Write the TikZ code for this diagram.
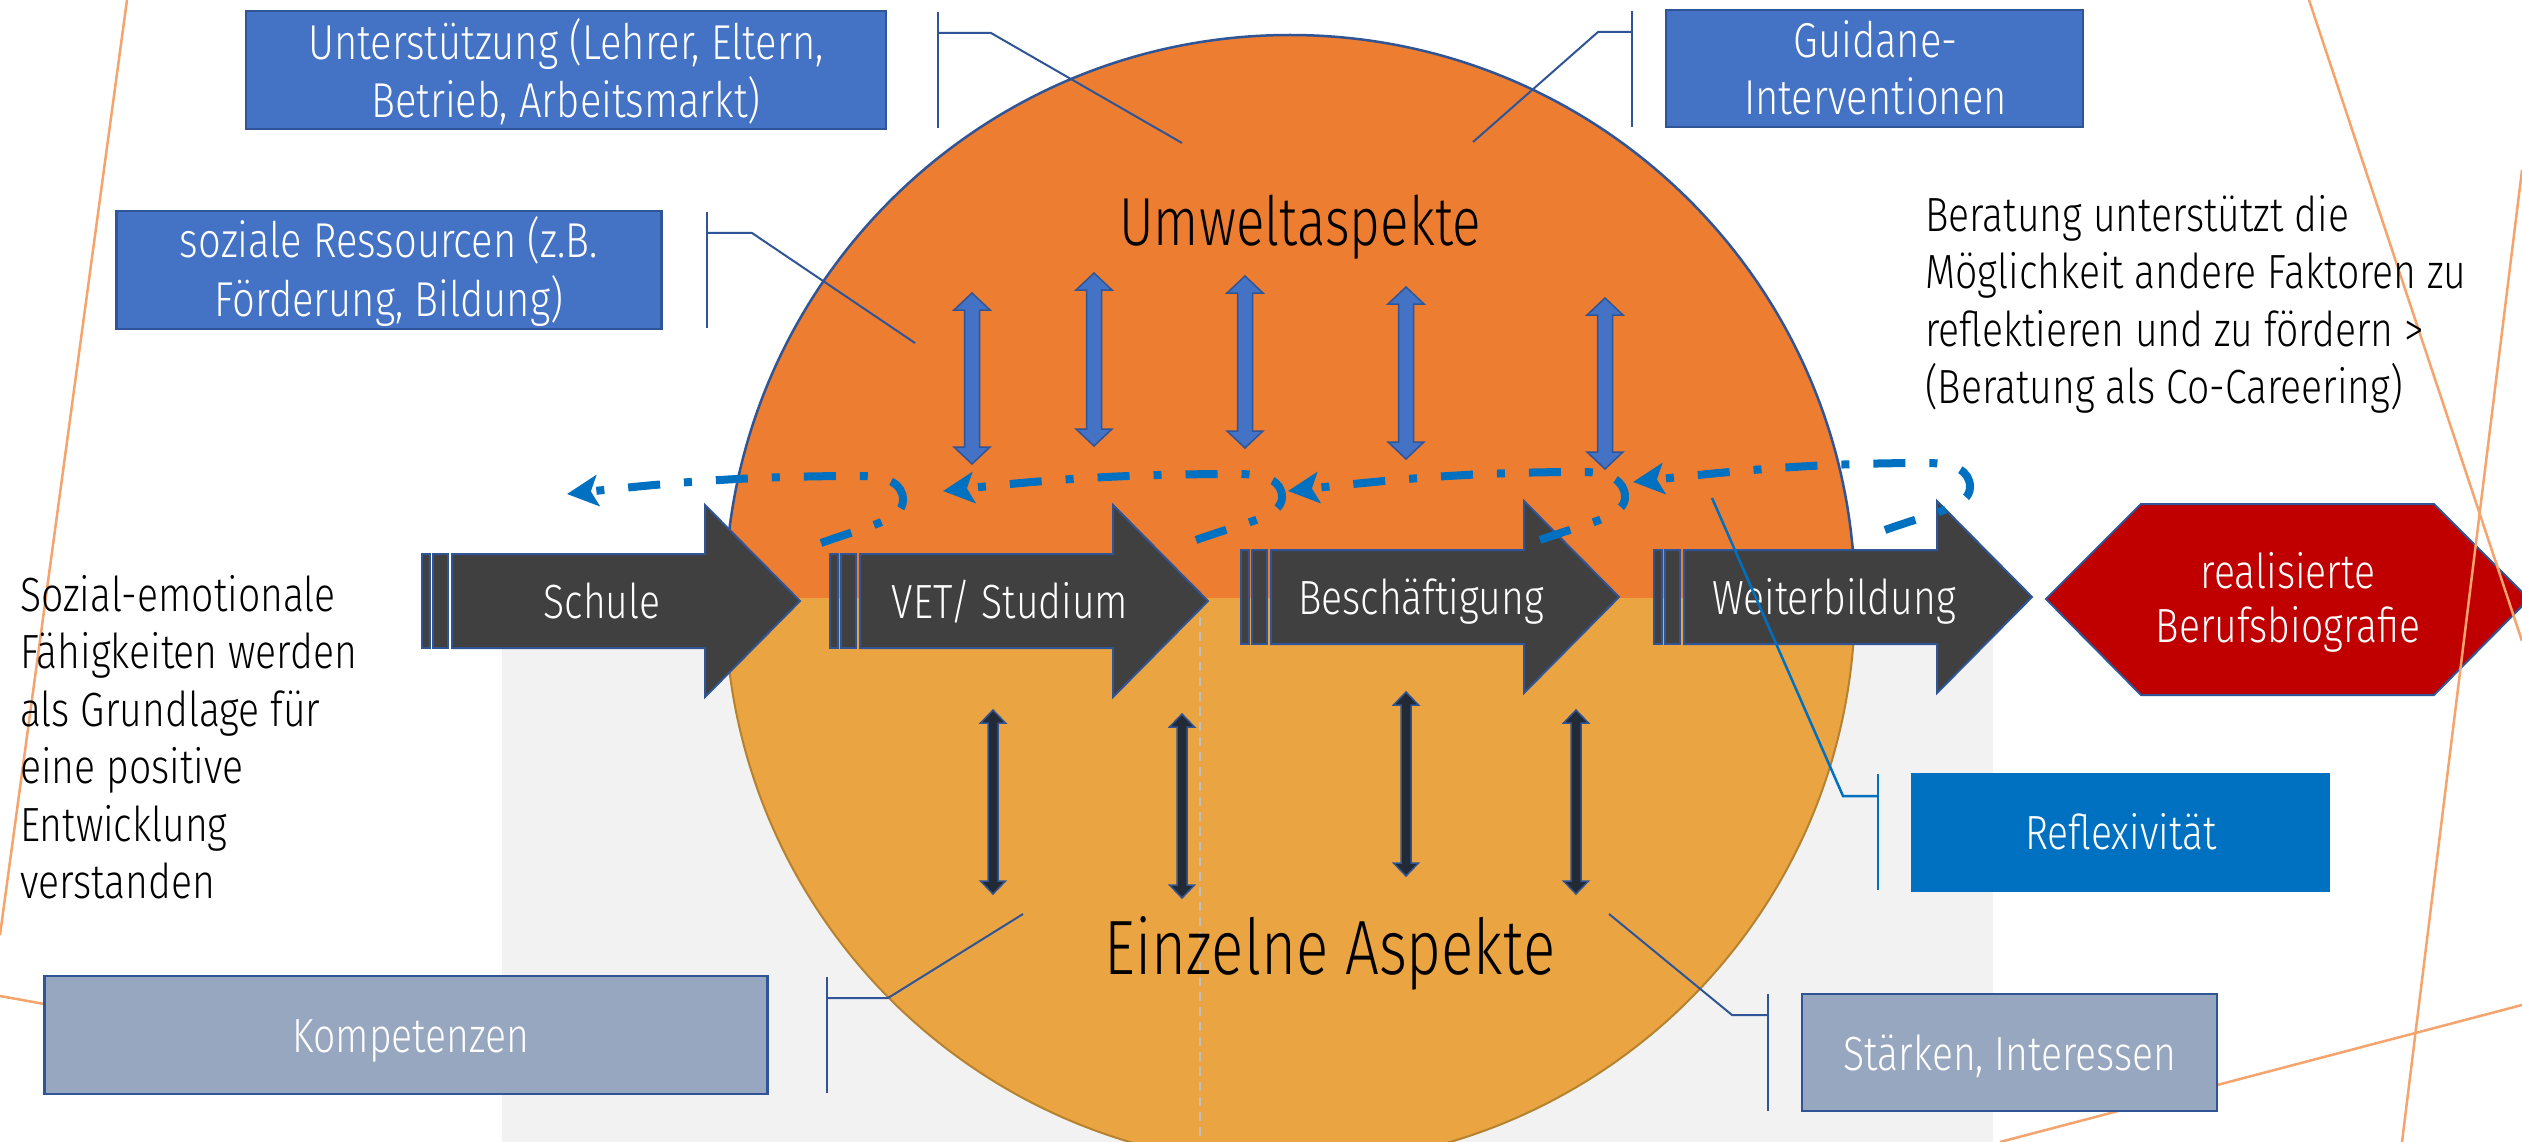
\documentclass[tikz,border=0pt]{standalone}
\usepackage{fontspec}
\setmainfont{Fira Sans Light}[FakeStretch=0.815]
\newfontfamily\headf{Fira Sans Light}[FakeStretch=0.78]
\usetikzlibrary{arrows.meta}
\definecolor{boxblue}{HTML}{4472C4}
\definecolor{edgeblue}{HTML}{2F5597}
\definecolor{refblue}{HTML}{0070C0}
\definecolor{grayblue}{HTML}{97A7BF}
\definecolor{hexred}{HTML}{C00000}
\definecolor{arrgray}{HTML}{404040}
\definecolor{topor}{HTML}{ED7D31}
\definecolor{botor}{HTML}{EAA442}
\definecolor{botedge}{HTML}{B5822F}
\definecolor{bggray}{HTML}{F2F2F2}
\definecolor{decor}{HTML}{F4A46C}
\definecolor{darkarr}{HTML}{222A35}
\definecolor{dashgray}{HTML}{BFBFBF}

\newcommand\vdblarr[7]{%
  \draw[#7] ({#1},{#2}) -- ({#1+#5},{#2+#6}) -- ({#1+#4},{#2+#6}) -- ({#1+#4},{#3-#6}) -- ({#1+#5},{#3-#6}) -- ({#1},{#3}) -- ({#1-#5},{#3-#6}) -- ({#1-#4},{#3-#6}) -- ({#1-#4},{#2+#6}) -- ({#1-#5},{#2+#6}) -- cycle;}

\newcommand\procarr[4]{%
  \draw[arrbody] ({#1},{#2-47}) rectangle ({#1+8},{#2+47});
  \draw[arrbody] ({#1+11},{#2-47}) rectangle ({#1+26},{#2+47});
  \draw[arrbody] ({#1+30},{#2-47}) -- ({#1+283},{#2-47}) -- ({#1+283},{#2-96}) -- ({#1+378},{#2}) -- ({#1+283},{#2+96}) -- ({#1+283},{#2+47}) -- ({#1+30},{#2+47}) -- cycle;
  \node[wtxt, anchor=base] (#3) at ({#1+180},{#2+17}) {#4};}

\begin{document}
\begin{tikzpicture}[x=1pt,y=-1pt,
  txt/.style={inner sep=0pt, font=\fontsize{48}{57.5}\selectfont},
  wtxt/.style={txt, text=white},
  bluebox/.style={draw=edgeblue, fill=boxblue, line width=2.5pt, inner sep=0pt},
  greybox/.style={draw=edgeblue, fill=grayblue, line width=2.5pt, inner sep=0pt},
  reflbox/.style={fill=refblue, inner sep=0pt},
  callout/.style={draw=edgeblue, line width=2pt},
  reflcall/.style={draw=refblue, line width=2.5pt},
  decoline/.style={draw=decor, line width=2.5pt},
  arrbody/.style={fill=arrgray, draw=edgeblue, line width=2pt},
  updbl/.style={fill=boxblue, draw=edgeblue, line width=1.5pt},
  lowdbl/.style={fill=darkarr, draw=edgeblue, line width=1.5pt},
  loopst/.style={draw=refblue, line width=8pt, dash pattern=on 32pt off 24pt on 8pt off 24pt,
     -{Stealth[length=31pt,width=31pt,inset=7pt]}}]

\useasboundingbox (0,0) rectangle (2522,1142);
\fill[white] (0,0) rectangle (2522,1142);

% grey panel
\fill[bggray] (502,600) rectangle (1993,1142);

% circle halves
\begin{scope}
  \clip (0,0) rectangle (2522,598);
  \fill[topor] (1290,600) circle[radius=565pt];
  \draw[edgeblue, line width=2.5pt] (1290,600) circle[radius=565pt];
\end{scope}
\begin{scope}
  \clip (0,598) rectangle (2522,1142);
  \fill[botor] (1290,600) circle[radius=565pt];
  \draw[botedge, line width=2pt] (1290,600) circle[radius=565pt];
\end{scope}

% vertical dashed line
\coordinate (dlt) at (1200,602);
\coordinate (dlb) at (1200,1142);
\draw[dashgray, line width=2pt, dash pattern=on 9pt off 6pt] (dlt) -- (dlb);

% headings
\node[inner sep=0pt, anchor=base, font=\headf\fontsize{68}{80}\selectfont] (umwelt) at (1300,246) {Umweltaspekte};
\node[inner sep=0pt, anchor=base, font=\headf\fontsize{77}{90}\selectfont] (einzeln) at (1330,974) {Einzelne Aspekte};

% callouts (dark blue)
\coordinate (cu1) at (938,12); \coordinate (cu2) at (938,128);
\coordinate (cu3) at (938,33); \coordinate (cu4) at (991,33); \coordinate (cu5) at (1182,143);
\draw[callout] (cu1) -- (cu2); \draw[callout] (cu3) -- (cu4) -- (cu5);

\coordinate (cg1) at (1632,11); \coordinate (cg2) at (1632,127);
\coordinate (cg3) at (1632,32); \coordinate (cg4) at (1598,32); \coordinate (cg5) at (1473,142);
\draw[callout] (cg1) -- (cg2); \draw[callout] (cg3) -- (cg4) -- (cg5);

\coordinate (cs1) at (707,212); \coordinate (cs2) at (707,328);
\coordinate (cs3) at (707,233); \coordinate (cs4) at (752,233); \coordinate (cs5) at (915,343);
\draw[callout] (cs1) -- (cs2); \draw[callout] (cs3) -- (cs4) -- (cs5);

\coordinate (ck1) at (827,977); \coordinate (ck2) at (827,1093);
\coordinate (ck3) at (827,998); \coordinate (ck4) at (888,998); \coordinate (ck5) at (1023,914);
\draw[callout] (ck1) -- (ck2); \draw[callout] (ck3) -- (ck4) -- (ck5);

\coordinate (ct1) at (1768,994); \coordinate (ct2) at (1768,1111);
\coordinate (ct3) at (1768,1015); \coordinate (ct4) at (1732,1015); \coordinate (ct5) at (1609,914);
\draw[callout] (ct1) -- (ct2); \draw[callout] (ct3) -- (ct4) -- (ct5);

% upper double arrows
\vdblarr{972}{293}{464}{7.5}{18}{17}{updbl}
\vdblarr{1094}{273}{446}{7.5}{18}{17}{updbl}
\vdblarr{1245}{276}{448}{7.5}{18}{17}{updbl}
\vdblarr{1406}{287}{459}{7.5}{18}{17}{updbl}
\vdblarr{1605}{298}{469}{7.5}{18}{17}{updbl}

% lower double arrows
\vdblarr{993}{710}{894}{5}{12.5}{13}{lowdbl}
\vdblarr{1182}{714}{898}{5}{12.5}{13}{lowdbl}
\vdblarr{1406}{692}{876}{5}{12.5}{13}{lowdbl}
\vdblarr{1576}{710}{894}{5}{12.5}{13}{lowdbl}

% process arrows
\procarr{422}{601}{schule}{Schule}
\procarr{830}{601}{vet}{VET/ Studium}
\procarr{1241}{597}{besch}{Beschäftigung}
\procarr{1654}{597}{weiter}{Weiterbildung}

% hexagon
\coordinate (hx1) at (2046,599); \coordinate (hx2) at (2141,504); \coordinate (hx3) at (2434,504);
\coordinate (hx4) at (2529,599); \coordinate (hx5) at (2434,695); \coordinate (hx6) at (2141,695);
\draw[fill=hexred, draw=edgeblue, line width=2pt] (hx1) -- (hx2) -- (hx3) -- (hx4) -- (hx5) -- (hx6) -- cycle;
\node[wtxt, anchor=base, font=\fontsize{48}{54}\selectfont] (hexlbl) at (2288,588)
  {\begin{tabular}[t]{@{}c@{}}realisierte\\Berufsbiografie\end{tabular}};

% decorative lines
\coordinate (da1) at (127,0); \coordinate (da2) at (0,935);
\coordinate (db1) at (0,996); \coordinate (db2) at (300,1050);
\coordinate (dc1) at (2309,0); \coordinate (dc2) at (2522,641);
\coordinate (dd1) at (2522,170); \coordinate (dd2) at (2402,1142);
\coordinate (de1) at (2522,1005); \coordinate (de2) at (2000,1142);
\draw[decoline] (da1) -- (da2);
\draw[decoline] (db1) -- (db2);
\draw[decoline] (dc1) -- (dc2);
\draw[decoline] (dd1) -- (dd2);
\draw[decoline] (de1) -- (de2);

% boxes
\node[bluebox, minimum width=640pt, minimum height=118pt] (bunter) at (566,70) {};
\node[wtxt, anchor=base, font=\fontsize{49}{56}\selectfont] (tunter) at (566,60)
  {\begin{tabular}[t]{@{}c@{}}Unterstützung (Lehrer, Eltern,\\Betrieb, Arbeitsmarkt)\end{tabular}};

\node[bluebox, minimum width=545pt, minimum height=118pt] (bsoz) at (389,270) {};
\node[wtxt, anchor=base, font=\fontsize{49}{57}\selectfont] (tsozres) at (389,258)
  {\begin{tabular}[t]{@{}c@{}}soziale Ressourcen (z.B.\\Förderung, Bildung)\end{tabular}};

\node[bluebox, minimum width=417pt, minimum height=117pt] (bguid) at (1874.5,68.5) {};
\node[wtxt, anchor=base, font=\fontsize{49}{57}\selectfont] (tguid) at (1875.5,57.5)
  {\begin{tabular}[t]{@{}c@{}}Guidane-\\Interventionen\end{tabular}};

\node[greybox, minimum width=723pt, minimum height=118pt] (bkomp) at (406,1035) {};
\node[wtxt, anchor=base] (tkomp) at (411,1052) {Kompetenzen};

\node[greybox, minimum width=415pt, minimum height=117pt] (bstaerk) at (2009.5,1052.5) {};
\node[wtxt, anchor=base] (tstaerk) at (2010,1070) {Stärken, Interessen};

\node[reflbox, minimum width=419pt, minimum height=119pt] (brefl) at (2120.5,832.5) {};
\node[wtxt, anchor=base] (trefl) at (2121,849) {Reflexivität};

% free texts
\node[txt, anchor=base west] (tberat) at (1925,231.5)
  {\begin{tabular}[t]{@{}l@{}}Beratung unterstützt die\\Möglichkeit andere Faktoren zu\\reflektieren und zu fördern >\\(Beratung als Co-Careering)\end{tabular}};
\node[txt, anchor=base west] (tsozial) at (20,611)
  {\begin{tabular}[t]{@{}l@{}}Sozial-emotionale\\Fähigkeiten werden\\als Grundlage für\\eine positive\\Entwicklung\\verstanden\end{tabular}};

% dash-dot loops
\coordinate (s1) at (821,543); \coordinate (h1) at (903,500); \coordinate (p1) at (860,476); \coordinate (t1) at (567,494);
\coordinate (s2) at (1196,540); \coordinate (h2) at (1282,497); \coordinate (p2) at (1238,474); \coordinate (t2) at (943,491);
\coordinate (s3) at (1540,540); \coordinate (h3) at (1625,497); \coordinate (p3) at (1582,472); \coordinate (t3) at (1288,491);
\coordinate (s4) at (1885,530); \coordinate (h4) at (1970,487); \coordinate (p4) at (1927,463); \coordinate (t4) at (1633,482);
\foreach \i in {1,2,3,4}{
  \draw[loopst] (s\i) .. controls +(50,-18) and +(0,20) .. (h\i) .. controls +(0,-16) and +(28,0) .. (p\i) .. controls +(-110,0) and +(110,-12) .. (t\i);
}

% Reflexivitaet callout
\coordinate (cr1) at (1878,774); \coordinate (cr2) at (1878,890);
\coordinate (cr3) at (1878,796); \coordinate (cr4) at (1843,796); \coordinate (cr5) at (1712,498);
\draw[reflcall] (cr1) -- (cr2); \draw[reflcall] (cr3) -- (cr4) -- (cr5);

\end{tikzpicture}
\end{document}
